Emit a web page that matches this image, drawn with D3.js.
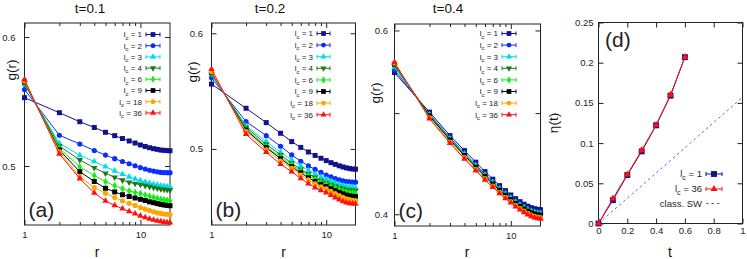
<!DOCTYPE html>
<html>
<head>
<meta charset="utf-8">
<script src="https://cdn.jsdelivr.net/npm/d3@7"></script>
<style>
  body { margin: 0; background: #fff; }
  svg { font-family: "Liberation Sans", Arial, sans-serif; }
</style>
</head>
<body>
<svg id="chart" width="747" height="259"></svg>
<script>
// ---- data ----
const rVals = [1, 2, 3, 4, 5, 6, 7, 8, 9, 10, 11, 12, 13, 14, 15, 16, 17, 18];
const lcLabels = ["1", "2", "3", "4", "6", "9", "18", "36"];

// g(r) at t=0.1, one row per l_c
const gA = [
  [0.5507,0.5391,0.5323,0.5280,0.5244,0.5219,0.5198,0.5180,0.5165,0.5151,0.5140,0.5131,0.5124,0.5119,0.5114,0.5112,0.5110,0.5109],
  [0.5571,0.5222,0.5158,0.5111,0.5078,0.5052,0.5032,0.5016,0.5002,0.4989,0.4979,0.4970,0.4964,0.4959,0.4955,0.4954,0.4953,0.4953],
  [0.5609,0.5163,0.5076,0.5032,0.4995,0.4966,0.4942,0.4924,0.4910,0.4898,0.4888,0.4880,0.4873,0.4868,0.4863,0.4860,0.4857,0.4856],
  [0.5619,0.5143,0.5043,0.4987,0.4949,0.4921,0.4901,0.4886,0.4877,0.4871,0.4863,0.4856,0.4850,0.4845,0.4840,0.4837,0.4835,0.4833],
  [0.5625,0.5127,0.4995,0.4933,0.4890,0.4862,0.4842,0.4826,0.4817,0.4809,0.4799,0.4790,0.4782,0.4776,0.4770,0.4766,0.4763,0.4761],
  [0.5631,0.5114,0.4960,0.4892,0.4845,0.4820,0.4801,0.4789,0.4779,0.4770,0.4762,0.4753,0.4747,0.4741,0.4736,0.4732,0.4729,0.4727],
  [0.5639,0.5102,0.4925,0.4850,0.4811,0.4782,0.4760,0.4743,0.4729,0.4715,0.4704,0.4695,0.4687,0.4680,0.4676,0.4672,0.4670,0.4669],
  [0.5650,0.5086,0.4912,0.4813,0.4759,0.4729,0.4707,0.4689,0.4674,0.4660,0.4649,0.4640,0.4633,0.4627,0.4623,0.4619,0.4617,0.4615]
];
// t=0.2
const gB = [
  [0.5538,0.5331,0.5212,0.5125,0.5058,0.5012,0.4976,0.4949,0.4927,0.4909,0.4893,0.4880,0.4869,0.4860,0.4853,0.4848,0.4844,0.4843],
  [0.5593,0.5220,0.5106,0.5021,0.4953,0.4904,0.4868,0.4841,0.4818,0.4799,0.4784,0.4772,0.4762,0.4754,0.4750,0.4747,0.4745,0.4745],
  [0.5621,0.5185,0.5058,0.4974,0.4914,0.4868,0.4834,0.4807,0.4784,0.4767,0.4753,0.4741,0.4730,0.4721,0.4714,0.4710,0.4707,0.4704],
  [0.5629,0.5174,0.5037,0.4953,0.4889,0.4841,0.4807,0.4780,0.4758,0.4742,0.4727,0.4716,0.4705,0.4697,0.4690,0.4686,0.4684,0.4682],
  [0.5635,0.5163,0.5018,0.4935,0.4876,0.4828,0.4793,0.4766,0.4745,0.4730,0.4715,0.4701,0.4690,0.4680,0.4673,0.4668,0.4665,0.4663],
  [0.5641,0.5152,0.5010,0.4924,0.4862,0.4815,0.4778,0.4750,0.4728,0.4712,0.4696,0.4682,0.4669,0.4658,0.4649,0.4643,0.4640,0.4638],
  [0.5648,0.5138,0.4992,0.4906,0.4850,0.4799,0.4762,0.4732,0.4710,0.4695,0.4676,0.4660,0.4645,0.4633,0.4622,0.4616,0.4611,0.4609],
  [0.5670,0.5117,0.4974,0.4881,0.4824,0.4773,0.4733,0.4704,0.4683,0.4668,0.4649,0.4631,0.4616,0.4603,0.4594,0.4589,0.4586,0.4585]
];
// t=0.4
const gC = [
  [0.5468,0.5011,0.4758,0.4603,0.4487,0.4395,0.4322,0.4261,0.4214,0.4174,0.4140,0.4113,0.4090,0.4072,0.4059,0.4050,0.4044,0.4041],
  [0.5501,0.4990,0.4734,0.4578,0.4462,0.4371,0.4299,0.4239,0.4192,0.4153,0.4118,0.4091,0.4068,0.4049,0.4036,0.4026,0.4020,0.4016],
  [0.5532,0.4983,0.4726,0.4570,0.4454,0.4363,0.4292,0.4232,0.4185,0.4146,0.4111,0.4084,0.4061,0.4042,0.4028,0.4018,0.4012,0.4008],
  [0.5550,0.4976,0.4719,0.4561,0.4445,0.4355,0.4284,0.4224,0.4178,0.4138,0.4104,0.4077,0.4053,0.4034,0.4020,0.4010,0.4004,0.4000],
  [0.5562,0.4972,0.4715,0.4557,0.4441,0.4352,0.4280,0.4221,0.4174,0.4135,0.4100,0.4073,0.4050,0.4031,0.4017,0.4007,0.4000,0.3996],
  [0.5571,0.4968,0.4711,0.4553,0.4437,0.4348,0.4276,0.4217,0.4171,0.4131,0.4097,0.4070,0.4046,0.4027,0.4013,0.4003,0.3996,0.3992],
  [0.5583,0.4951,0.4691,0.4532,0.4416,0.4328,0.4257,0.4199,0.4153,0.4114,0.4079,0.4052,0.4028,0.4008,0.3994,0.3983,0.3976,0.3971],
  [0.5591,0.4940,0.4679,0.4520,0.4404,0.4316,0.4246,0.4188,0.4142,0.4103,0.4068,0.4041,0.4017,0.3997,0.3982,0.3971,0.3964,0.3959]
];

// eta(t) panel
const tVals = [0, 0.1, 0.2, 0.3, 0.4, 0.5, 0.6];
const etaLc1 = [0, 0.029, 0.0602, 0.0897, 0.1221, 0.159, 0.2069];
const etaLc36 = [0, 0.031, 0.061, 0.0912, 0.1225, 0.160, 0.207];
const swT = [0, 1];
const swEta = [0, 0.157];

const lcColors = ["#12128e", "#0b2dff", "#00dcee", "#187a18", "#14ee14", "#000000", "#ffa600", "#ff1010"];
const lcShapes = ["square", "circle", "triangle", "triangleDown", "diamond", "square", "circle", "triangle"];

const svg = d3.select("#chart");
const ink = "#222";

const symTypes = {
  square: d3.symbolSquare, circle: d3.symbolCircle, triangle: d3.symbolTriangle,
  triangleDown: d3.symbolTriangle, diamond: d3.symbolDiamond
};
const symSizes = { square: 25, circle: 21, triangle: 18, triangleDown: 18, diamond: 18 };

function marker(sel, shape, color, cx, cy, scale) {
  const s = scale || 1;
  sel.append("path")
    .attr("d", d3.symbol().type(symTypes[shape]).size(symSizes[shape] * s)())
    .attr("transform", "translate(" + cx + "," + cy + ")" + (shape === "triangleDown" ? " rotate(180)" : ""))
    .attr("fill", color);
}

function cleanAxis(g, fs) {
  g.attr("color", ink).attr("font-size", fs).attr("font-family", null);
  g.select(".domain").remove();
}

function frame(g, p) {
  g.append("rect")
    .attr("x", p.left).attr("y", p.top)
    .attr("width", p.right - p.left).attr("height", p.bottom - p.top)
    .attr("fill", "none").attr("stroke", ink).attr("stroke-width", 1);
}

function legendLabel(g, x, y, lab, fs) {
  const t = g.append("text").attr("x", x).attr("y", y).attr("text-anchor", "end")
    .attr("font-size", fs).attr("fill", ink).attr("dy", "0.35em");
  t.append("tspan").text("l");
  t.append("tspan").attr("dy", fs * 0.3).attr("font-size", fs * 0.75).text("c");
  t.append("tspan").attr("dy", -fs * 0.3).text(" = " + lab);
}

function errSample(g, x0, x1, y, color) {
  g.append("line").attr("x1", x0).attr("x2", x1).attr("y1", y).attr("y2", y)
    .attr("stroke", color).attr("stroke-width", 1);
  [x0, x1].forEach(xx => g.append("line").attr("x1", xx).attr("x2", xx)
    .attr("y1", y - 2).attr("y2", y + 2).attr("stroke", color).attr("stroke-width", 1));
}

function drawGPanel(p) {
  const g = svg.append("g");
  const x = d3.scaleLog().domain([1, 18]).range([p.left, p.right]);
  const y = d3.scaleLog().domain(p.yDom).range([p.bottom, p.top]);

  // x ticks (inward, mirrored)
  g.append("g").attr("transform", "translate(0," + p.bottom + ")")
    .call(d3.axisBottom(x).tickValues([1, 10]).tickFormat(d3.format("d")).tickSize(-5).tickPadding(6))
    .call(a => cleanAxis(a, 9.5));
  g.append("g").attr("transform", "translate(0," + p.bottom + ")")
    .call(d3.axisBottom(x).tickValues([2, 3, 4, 5, 6, 7, 8, 9]).tickFormat("").tickSize(-3))
    .call(a => cleanAxis(a, 9.5));
  g.append("g").attr("transform", "translate(0," + p.top + ")")
    .call(d3.axisTop(x).tickValues([1, 10]).tickFormat("").tickSize(-5))
    .call(a => cleanAxis(a, 9.5));
  g.append("g").attr("transform", "translate(0," + p.top + ")")
    .call(d3.axisTop(x).tickValues([2, 3, 4, 5, 6, 7, 8, 9]).tickFormat("").tickSize(-3))
    .call(a => cleanAxis(a, 9.5));

  // y ticks
  g.append("g").attr("transform", "translate(" + p.left + ",0)")
    .call(d3.axisLeft(y).tickValues(p.yTicks).tickSize(-5).tickPadding(p.yPad)
      .tickFormat(d => p.yLabels.includes(d) ? d3.format(".1f")(d) : ""))
    .call(a => cleanAxis(a, 9.5));
  g.append("g").attr("transform", "translate(" + p.right + ",0)")
    .call(d3.axisRight(y).tickValues(p.yTicks).tickFormat("").tickSize(-5))
    .call(a => cleanAxis(a, 9.5));

  frame(g, p);

  const line = d3.line().x((d, j) => x(rVals[j])).y(d => y(d));
  p.data.forEach((vals, i) => {
    g.append("path").attr("d", line(vals)).attr("fill", "none")
      .attr("stroke", lcColors[i]).attr("stroke-width", 1);
    vals.forEach((v, j) => marker(g, lcShapes[i], lcColors[i], x(rVals[j]), y(v)));
  });

  // legend
  lcLabels.forEach((lab, i) => {
    const ly = p.leg.y0 + i * p.leg.dy;
    legendLabel(g, p.leg.tx, ly, lab, 8);
    errSample(g, p.leg.x0, p.leg.x1, ly, lcColors[i]);
    marker(g, lcShapes[i], lcColors[i], (p.leg.x0 + p.leg.x1) / 2, ly, 0.9);
  });

  // titles & labels
  if (p.title) {
    g.append("text").attr("x", p.titleX).attr("y", 12.5).attr("text-anchor", "middle")
      .attr("font-size", 13.5).attr("fill", "#111").text(p.title);
  }
  g.append("text").attr("transform", "translate(" + p.ylabX + "," + p.ylabY + ") rotate(-90)")
    .attr("text-anchor", "middle").attr("dy", "0.35em").attr("font-size", 13.5).attr("fill", "#111").text("g(r)");
  g.append("text").attr("x", p.xlabX).attr("y", 257).attr("text-anchor", "middle")
    .attr("font-size", 14).attr("fill", "#111").text("r");
  g.append("text").attr("x", p.left + 4).attr("y", p.bottom - 8)
    .attr("font-size", 21).attr("fill", "#222").text(p.tag);
}

drawGPanel({
  left: 24.5, right: 170, top: 23, bottom: 225, yDom: [0.460, 0.612],
  yTicks: [0.5, 0.6], yLabels: [0.5, 0.6], yPad: 9, data: gA,
  leg: { tx: 142, x0: 146, x1: 160, y0: 34.5, dy: 11.2 },
  title: "t=0.1", titleX: 90, ylabX: 11, ylabY: 70, xlabX: 97, tag: "(a)"
});
drawGPanel({
  left: 211.5, right: 355.5, top: 23, bottom: 225, yDom: [0.4435, 0.6098],
  yTicks: [0.5, 0.6], yLabels: [0.5, 0.6], yPad: 8.5, data: gB,
  leg: { tx: 313, x0: 317, x1: 330, y0: 33.5, dy: 11.6 },
  title: "t=0.2", titleX: 270, ylabX: 192, ylabY: 72, xlabX: 283.5, tag: "(b)"
});
drawGPanel({
  left: 394.5, right: 540.5, top: 24, bottom: 226, yDom: [0.3898, 0.6086],
  yTicks: [0.4, 0.5, 0.6], yLabels: [0.4, 0.6], yPad: 6.5, data: gC,
  leg: { tx: 498, x0: 502, x1: 516, y0: 33.5, dy: 11.6 },
  title: "t=0.4", titleX: 448, ylabX: 375, ylabY: 93, xlabX: 467, tag: "(c)"
});

// ---- panel (d): eta(t) ----
(function () {
  const p = { left: 598.5, right: 742.5, top: 22.5, bottom: 223.5 };
  const g = svg.append("g");
  const x = d3.scaleLinear().domain([0, 1]).range([p.left, p.right]);
  const y = d3.scaleLinear().domain([0, 0.25]).range([p.bottom, p.top]);
  const xt = [0, 0.2, 0.4, 0.6, 0.8, 1];
  const yt = [0, 0.05, 0.1, 0.15, 0.2, 0.25];

  g.append("g").attr("transform", "translate(0," + p.bottom + ")")
    .call(d3.axisBottom(x).tickValues(xt).tickFormat(d3.format("~g")).tickSize(-5).tickPadding(4))
    .call(a => cleanAxis(a, 9.5));
  g.append("g").attr("transform", "translate(0," + p.top + ")")
    .call(d3.axisTop(x).tickValues(xt).tickFormat("").tickSize(-5))
    .call(a => cleanAxis(a, 9.5));
  g.append("g").attr("transform", "translate(" + p.left + ",0)")
    .call(d3.axisLeft(y).tickValues(yt).tickFormat(d3.format("~g")).tickSize(-5).tickPadding(5))
    .call(a => cleanAxis(a, 9.5));
  g.append("g").attr("transform", "translate(" + p.right + ",0)")
    .call(d3.axisRight(y).tickValues(yt).tickFormat("").tickSize(-5))
    .call(a => cleanAxis(a, 9.5));
  frame(g, p);

  // classical SW reference
  g.append("path")
    .attr("d", d3.line().x((d, j) => x(swT[j])).y(d => y(d))(swEta))
    .attr("fill", "none").attr("stroke", "#5a5aff").attr("stroke-width", 1)
    .attr("stroke-dasharray", "2.5,3");

  const line = d3.line().x((d, j) => x(tVals[j])).y(d => y(d));
  g.append("path").attr("d", line(etaLc1)).attr("fill", "none").attr("stroke", lcColors[0]).attr("stroke-width", 1);
  etaLc1.forEach((v, j) => marker(g, "square", lcColors[0], x(tVals[j]), y(v), 1.4));
  g.append("path").attr("d", line(etaLc36)).attr("fill", "none").attr("stroke", lcColors[7]).attr("stroke-width", 1);
  etaLc36.forEach((v, j) => marker(g, "triangle", lcColors[7], x(tVals[j]), y(v), 1.2));

  // legend
  const ly = [174, 189, 203.5];
  legendLabel(g, 702, ly[0], "1", 9.5);
  errSample(g, 706, 722, ly[0], lcColors[0]);
  marker(g, "square", lcColors[0], 714, ly[0], 1.4);
  legendLabel(g, 702, ly[1], "36", 9.5);
  errSample(g, 706, 722, ly[1], lcColors[7]);
  marker(g, "triangle", lcColors[7], 714, ly[1], 1.2);
  g.append("text").attr("x", 702).attr("y", ly[2]).attr("dy", "0.35em").attr("text-anchor", "end")
    .attr("font-size", 9.5).attr("fill", ink).text("class. SW");
  g.append("line").attr("x1", 706).attr("x2", 722).attr("y1", ly[2]).attr("y2", ly[2])
    .attr("stroke", "#5a5aff").attr("stroke-dasharray", "2.5,3");

  g.append("text").attr("transform", "translate(553,123) rotate(-90)")
    .attr("text-anchor", "middle").attr("dy", "0.35em").attr("font-size", 13.5).attr("fill", "#111").text("η(t)");
  g.append("text").attr("x", 670).attr("y", 257).attr("text-anchor", "middle")
    .attr("font-size", 14).attr("fill", "#111").text("t");
  g.append("text").attr("x", 605).attr("y", 47).attr("font-size", 21).attr("fill", "#222").text("(d)");
})();
</script>
</body>
</html>
